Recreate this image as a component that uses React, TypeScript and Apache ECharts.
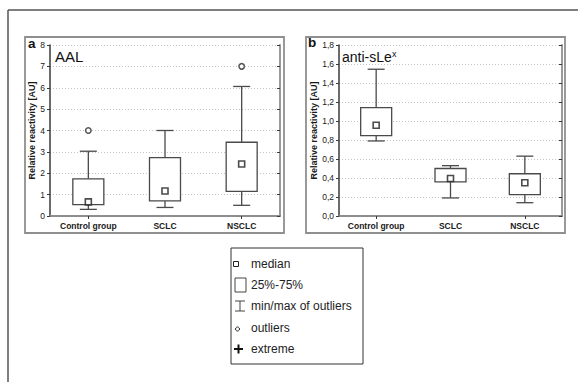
import React, { useEffect, useRef } from "react";
import * as echarts from "echarts";

const categories = ["Control group", "SCLC", "NSCLC"];

// Panel a: AAL
const aalMin = [0.31, 0.4, 0.5];
const aalQ1 = [0.53, 0.71, 1.15];
const aalMedian = [0.66, 1.17, 2.43];
const aalQ3 = [1.74, 2.73, 3.45];
const aalMax = [3.03, 4.0, 6.06];
const aalOutliers: [number, number][] = [
  [0, 4.0],
  [2, 7.0],
];

// Panel b: anti-sLe^x
const slexMin = [0.79, 0.19, 0.14];
const slexQ1 = [0.845, 0.36, 0.225];
const slexMedian = [0.955, 0.395, 0.35];
const slexQ3 = [1.14, 0.5, 0.445];
const slexMax = [1.545, 0.53, 0.63];
const slexOutliers: [number, number][] = [];

const aalTicks = { min: 0, max: 8, interval: 1 };
const slexTicks = { min: 0, max: 1.8, interval: 0.2 };

const legendLabels = ["median", "25%-75%", "min/max of outliers", "outliers", "extreme"];

const FONT = "'Liberation Sans', Arial, sans-serif";
const DARK = "#3a3a3a";
const GRAY = "#9a9a9a";

function boxRows(mn: number[], q1: number[], md: number[], q3: number[], mx: number[]) {
  return categories.map((_, i) => [i, mn[i], q1[i], md[i], q3[i], mx[i]]);
}

const renderBox = (params: any, api: any) => {
  const idx = api.value(0);
  const x = api.coord([idx, 0])[0];
  const yMin = api.coord([idx, api.value(1)])[1];
  const yQ1 = api.coord([idx, api.value(2)])[1];
  const yQ3 = api.coord([idx, api.value(4)])[1];
  const yMax = api.coord([idx, api.value(5)])[1];
  const bw = 31;
  const cw = 17;
  const ls = { stroke: "#4a4a4a", lineWidth: 1.3 };
  return {
    type: "group",
    children: [
      { type: "line", shape: { x1: x, y1: yMax, x2: x, y2: yQ3 }, style: ls },
      { type: "line", shape: { x1: x - cw / 2, y1: yMax, x2: x + cw / 2, y2: yMax }, style: ls },
      { type: "line", shape: { x1: x, y1: yQ1, x2: x, y2: yMin }, style: ls },
      { type: "line", shape: { x1: x - cw / 2, y1: yMin, x2: x + cw / 2, y2: yMin }, style: ls },
      {
        type: "rect",
        shape: { x: x - bw / 2, y: yQ3, width: bw, height: yQ1 - yQ3 },
        style: { fill: "#fff", stroke: "#4a4a4a", lineWidth: 1.3 },
      },
    ],
  };
};

function makeAxes(gridIndex: number, ticks: { min: number; max: number; interval: number }, fmt: (v: number) => string, nameGap: number) {
  const xBottom = {
    type: "category",
    gridIndex,
    data: categories,
    position: "bottom",
    axisLine: { show: true, lineStyle: { color: DARK, width: 1.5 } },
    axisTick: { show: false },
    axisLabel: { fontFamily: FONT, fontWeight: "bold", fontSize: 8.5, color: "#1a1a1a", margin: 5 },
    splitLine: { show: false },
  };
  const xTop = {
    type: "category",
    gridIndex,
    data: categories,
    position: "top",
    axisLine: { show: true, lineStyle: { color: GRAY, width: 1.5 } },
    axisTick: { show: true, inside: true, alignWithLabel: true, length: 3, lineStyle: { color: DARK } },
    axisLabel: { show: false },
    splitLine: { show: false },
  };
  const yLeft = {
    type: "value",
    gridIndex,
    position: "left",
    min: ticks.min,
    max: ticks.max,
    interval: ticks.interval,
    name: "Relative reactivity [AU]",
    nameLocation: "middle",
    nameGap,
    nameTextStyle: { fontFamily: FONT, fontWeight: "bold", fontSize: 9, color: "#1a1a1a" },
    axisLine: { show: true, lineStyle: { color: DARK, width: 1.5 } },
    axisTick: { show: true, length: 3, lineStyle: { color: DARK } },
    axisLabel: { fontFamily: FONT, fontSize: 8.5, color: "#1a1a1a", margin: 5, formatter: fmt },
    splitLine: { show: true, lineStyle: { color: "#c4c4c4", type: [1, 2], width: 1 } },
  };
  const yRight = {
    type: "value",
    gridIndex,
    position: "right",
    min: ticks.min,
    max: ticks.max,
    interval: ticks.interval,
    axisLine: { show: true, lineStyle: { color: GRAY, width: 2 } },
    axisTick: { show: true, inside: true, length: 3, lineStyle: { color: DARK } },
    axisLabel: { show: false },
    splitLine: { show: false },
  };
  return { x: [xBottom, xTop], y: [yLeft, yRight] };
}

export default function App() {
  const ref = useRef<HTMLDivElement>(null);
  useEffect(() => {
    if (!ref.current) return;
    const chart = echarts.init(ref.current, undefined, { renderer: "svg" });
    const axA = makeAxes(0, aalTicks, (v: number) => String(v), 12);
    const axB = makeAxes(1, slexTicks, (v: number) => v.toFixed(1).replace(".", ","), 21);

    const legendX = 231;
    const legendY = 248;
    const rowsY = [264, 285, 306, 328, 349];
    const textX = 251;

    const option: any = {
      animation: false,
      backgroundColor: "#fff",
      grid: [
        { left: 50, top: 45, width: 230, height: 171, show: false },
        { left: 339, top: 45, width: 223, height: 171, show: false },
      ],
      xAxis: [...axA.x, ...axB.x],
      yAxis: [...axA.y, ...axB.y],
      series: [
        {
          type: "custom",
          xAxisIndex: 0,
          yAxisIndex: 0,
          renderItem: renderBox,
          data: boxRows(aalMin, aalQ1, aalMedian, aalQ3, aalMax),
          encode: { x: 0, y: [1, 5] },
          z: 3,
        },
        {
          type: "scatter",
          xAxisIndex: 0,
          yAxisIndex: 0,
          symbol: "rect",
          symbolSize: 6,
          itemStyle: { color: "#fff", borderColor: "#1e1e1e", borderWidth: 1.6 },
          data: aalMedian.map((v, i) => [i, v]),
          z: 5,
        },
        {
          type: "scatter",
          xAxisIndex: 0,
          yAxisIndex: 0,
          symbol: "circle",
          symbolSize: 5.5,
          itemStyle: { color: "#fff", borderColor: "#2a2a2a", borderWidth: 1.5 },
          data: aalOutliers,
          z: 5,
        },
        {
          type: "custom",
          xAxisIndex: 2,
          yAxisIndex: 2,
          renderItem: renderBox,
          data: boxRows(slexMin, slexQ1, slexMedian, slexQ3, slexMax),
          encode: { x: 0, y: [1, 5] },
          z: 3,
        },
        {
          type: "scatter",
          xAxisIndex: 2,
          yAxisIndex: 2,
          symbol: "rect",
          symbolSize: 6,
          itemStyle: { color: "#fff", borderColor: "#1e1e1e", borderWidth: 1.6 },
          data: slexMedian.map((v, i) => [i, v]),
          z: 5,
        },
        {
          type: "scatter",
          xAxisIndex: 2,
          yAxisIndex: 2,
          symbol: "circle",
          symbolSize: 5.5,
          itemStyle: { color: "#fff", borderColor: "#2a2a2a", borderWidth: 1.5 },
          data: slexOutliers,
          z: 5,
        },
      ],
      graphic: [
        // outer frame
        { type: "line", shape: { x1: 8, y1: 10, x2: 578, y2: 10 }, style: { stroke: "#555", lineWidth: 1.5 }, z: 0 },
        { type: "line", shape: { x1: 8, y1: 10, x2: 8, y2: 382 }, style: { stroke: "#555", lineWidth: 1.5 }, z: 0 },
        // panel frames
        { type: "rect", shape: { x: 25, y: 37, width: 259, height: 196 }, style: { fill: "none", stroke: "#8f8f8f", lineWidth: 1.8 }, z: 0 },
        { type: "rect", shape: { x: 306, y: 37, width: 259, height: 196 }, style: { fill: "none", stroke: "#8f8f8f", lineWidth: 1.8 }, z: 0 },
        // panel letters
        { type: "text", x: 28, y: 36, style: { text: "a", fontFamily: FONT, fontWeight: "bold", fontSize: 13.5, fill: "#111", verticalAlign: "top" } },
        { type: "text", x: 308, y: 35, style: { text: "b", fontFamily: FONT, fontWeight: "bold", fontSize: 13.5, fill: "#111", verticalAlign: "top" } },
        // panel titles
        { type: "text", x: 55, y: 49, style: { text: "AAL", fontFamily: FONT, fontSize: 15, fill: "#111", verticalAlign: "top" } },
        { type: "text", x: 342, y: 50, style: { text: "anti-sLe", fontFamily: FONT, fontSize: 14, fill: "#111", verticalAlign: "top" } },
        { type: "text", x: 392, y: 49, style: { text: "x", fontFamily: FONT, fontSize: 9, fill: "#111", verticalAlign: "top" } },
        // legend
        { type: "rect", shape: { x: legendX, y: legendY, width: 132, height: 116 }, style: { fill: "#fff", stroke: "#333", lineWidth: 1 } },
        { type: "rect", shape: { x: 233.5, y: rowsY[0] - 2.5, width: 5, height: 5 }, style: { fill: "#fff", stroke: "#222", lineWidth: 1 } },
        { type: "rect", shape: { x: 235, y: rowsY[1] - 7, width: 11, height: 14 }, style: { fill: "#fff", stroke: "#444", lineWidth: 1 } },
        { type: "line", shape: { x1: 240, y1: rowsY[2] - 5, x2: 240, y2: rowsY[2] + 5 }, style: { stroke: "#444", lineWidth: 1 } },
        { type: "line", shape: { x1: 235, y1: rowsY[2] - 5, x2: 245, y2: rowsY[2] - 5 }, style: { stroke: "#444", lineWidth: 1 } },
        { type: "line", shape: { x1: 235, y1: rowsY[2] + 5, x2: 245, y2: rowsY[2] + 5 }, style: { stroke: "#444", lineWidth: 1 } },
        { type: "circle", shape: { cx: 237.5, cy: rowsY[3] + 1, r: 2 }, style: { fill: "#fff", stroke: "#222", lineWidth: 1 } },
        { type: "line", shape: { x1: 234, y1: rowsY[4], x2: 243, y2: rowsY[4] }, style: { stroke: "#111", lineWidth: 2 } },
        { type: "line", shape: { x1: 238.5, y1: rowsY[4] - 4.5, x2: 238.5, y2: rowsY[4] + 4.5 }, style: { stroke: "#111", lineWidth: 2 } },
        ...legendLabels.map((t, i) => ({
          type: "text",
          x: textX,
          y: rowsY[i],
          style: { text: t, fontFamily: FONT, fontSize: 12, fill: "#222", verticalAlign: "middle" },
        })),
      ],
    };
    chart.setOption(option);
    return () => chart.dispose();
  }, []);
  return (
    <div
      ref={ref}
      style={{ position: "absolute", left: 0, top: 0, width: 578, height: 382, background: "#fff" }}
    />
  );
}
